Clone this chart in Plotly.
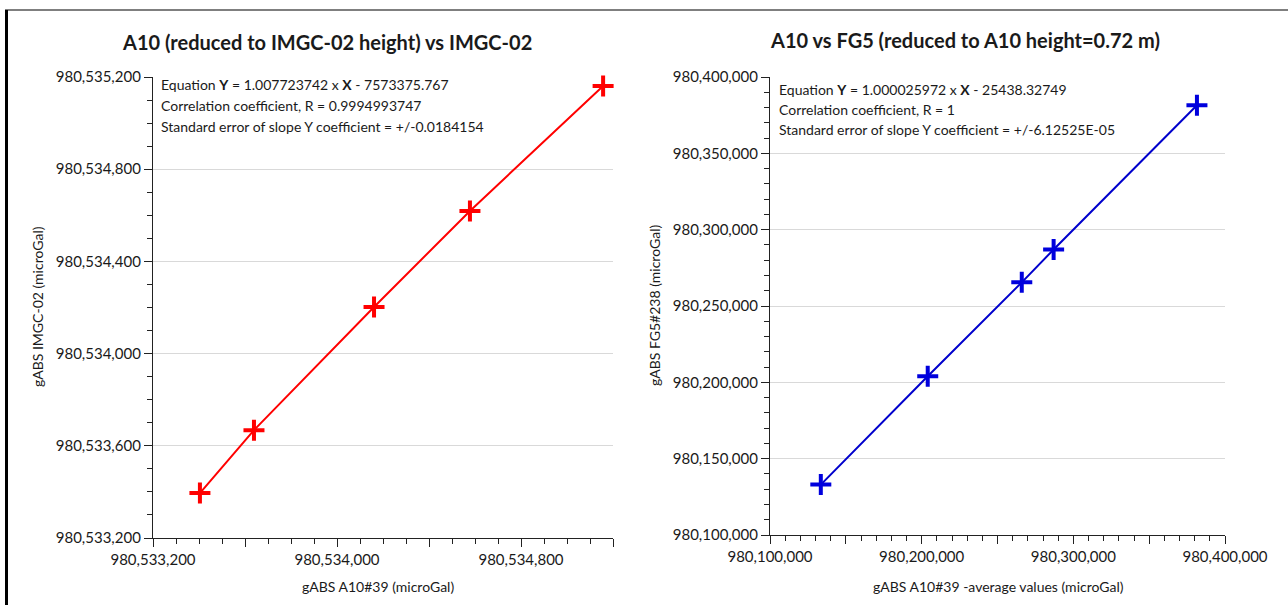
import plotly.graph_objects as go

# ---- data ----
left_x = [980533404, 980533639, 980534161, 980534578, 980535157]
left_y = [980533395, 980533668, 980534202, 980534619, 980535161]
right_x = [980133500, 980204000, 980266000, 980287000, 980381500]
right_y = [980133000, 980204000, 980265500, 980287000, 980381500]

left_title = "A10 (reduced to IMGC-02 height) vs IMGC-02"
right_title = "A10 vs FG5 (reduced to A10 height=0.72 m)"
left_xlabel = "gABS A10#39 (microGal)"
left_ylabel = "gABS IMGC-02 (microGal)"
right_xlabel = "gABS A10#39 -average values (microGal)"
right_ylabel = "gABS FG5#238 (microGal)"
left_eq = ["Equation <b>Y</b> = 1.007723742 x <b>X</b> - 7573375.767",
           "Correlation coefficient, R = 0.9994993747",
           "Standard error of slope Y coefficient = +/-0.0184154"]
right_eq = ["Equation <b>Y</b> = 1.000025972 x <b>X</b> - 25438.32749",
            "Correlation coefficient, R = 1",
            "Standard error of slope Y coefficient = +/-6.12525E-05"]

left_xticks = [980533200 + 400 * i for i in range(6)]
left_yticks = [980533200 + 400 * i for i in range(6)]
right_xticks = [980100000 + 50000 * i for i in range(7)]
right_yticks = [980100000 + 50000 * i for i in range(7)]

W, H = 1288, 605
FONT = "Lato"
TXT = "#1a1a1a"

def fx(p):
    return p / W

def fy(p):
    return 1 - p / H

def fmt(v):
    return f"{v:,}"

fig = go.Figure()
fig.add_trace(go.Scatter(
    x=left_x, y=left_y, mode="lines+markers",
    line=dict(color="#ff0000", width=2),
    marker=dict(symbol="cross-thin", size=15, line=dict(color="#ff0000", width=4)),
    xaxis="x", yaxis="y", showlegend=False, cliponaxis=False))
fig.add_trace(go.Scatter(
    x=right_x, y=right_y, mode="lines+markers",
    line=dict(color="#0000cc", width=2),
    marker=dict(symbol="cross-thin", size=15, line=dict(color="#0000dd", width=4)),
    xaxis="x2", yaxis="y2", showlegend=False, cliponaxis=False))

axis_common = dict(
    showline=True, linecolor="#222", linewidth=1.3,
    ticks="outside", tickcolor="#222", ticklen=8, tickwidth=1.3,
    tickfont=dict(family=FONT, size=15, color=TXT),
    zeroline=False, automargin=False,
)

fig.update_layout(
    width=W, height=H, autosize=False,
    margin=dict(l=0, r=0, t=0, b=0, pad=0, autoexpand=False),
    paper_bgcolor="white", plot_bgcolor="white",
    font=dict(family=FONT, color=TXT),
    xaxis=dict(
        **axis_common,
        domain=[fx(153), fx(613)], anchor="y",
        range=[980533200, 980535200],
        tickvals=left_xticks,
        ticktext=[fmt(v) if i % 2 == 0 else "" for i, v in enumerate(left_xticks)],
        showgrid=False,
        minor=dict(dtick=100, tick0=980533200, ticks="outside", ticklen=5, tickcolor="#222", showgrid=False),
    ),
    yaxis=dict(
        **axis_common,
        domain=[fy(538), fy(77)], anchor="x",
        range=[980533200, 980535200],
        tickvals=left_yticks,
        ticktext=[fmt(v) for v in left_yticks],
        showgrid=True, gridcolor="#d9d9d9", gridwidth=1,
        minor=dict(dtick=100, tick0=980533200, ticks="outside", ticklen=5, tickcolor="#222", showgrid=False),
    ),
    xaxis2=dict(
        **axis_common,
        domain=[fx(770), fx(1225)], anchor="y2",
        range=[980100000, 980400000],
        tickvals=right_xticks,
        ticktext=[fmt(v) if i % 2 == 0 else "" for i, v in enumerate(right_xticks)],
        showgrid=False,
        minor=dict(dtick=10000, tick0=980100000, ticks="outside", ticklen=5, tickcolor="#222", showgrid=False),
    ),
    yaxis2=dict(
        **axis_common,
        domain=[fy(535), fy(77)], anchor="x2",
        range=[980100000, 980400000],
        tickvals=right_yticks,
        ticktext=[fmt(v) for v in right_yticks],
        showgrid=True, gridcolor="#d9d9d9", gridwidth=1,
        minor=dict(dtick=10000, tick0=980100000, ticks="outside", ticklen=5, tickcolor="#222", showgrid=False),
    ),
)

ann = []
# titles
ann.append(dict(text=f"<b>{left_title}</b>", x=fx(327), y=fy(42), xref="paper", yref="paper",
                xanchor="center", yanchor="middle", showarrow=False,
                font=dict(family=FONT, size=20, color=TXT)))
ann.append(dict(text=f"<b>{right_title}</b>", x=fx(965), y=fy(40), xref="paper", yref="paper",
                xanchor="center", yanchor="middle", showarrow=False,
                font=dict(family=FONT, size=20, color=TXT)))
# axis titles
ann.append(dict(text=left_xlabel, x=fx(378), y=fy(586), xref="paper", yref="paper",
                xanchor="center", yanchor="middle", showarrow=False,
                font=dict(family=FONT, size=14, color=TXT)))
ann.append(dict(text=right_xlabel, x=fx(998), y=fy(586), xref="paper", yref="paper",
                xanchor="center", yanchor="middle", showarrow=False,
                font=dict(family=FONT, size=14, color=TXT)))
ann.append(dict(text=left_ylabel, x=fx(37), y=fy(307), xref="paper", yref="paper",
                xanchor="center", yanchor="middle", showarrow=False, textangle=-90,
                font=dict(family=FONT, size=14, color=TXT)))
ann.append(dict(text=right_ylabel, x=fx(654), y=fy(306), xref="paper", yref="paper",
                xanchor="center", yanchor="middle", showarrow=False, textangle=-90,
                font=dict(family=FONT, size=14, color=TXT)))
# equation texts
for i, t in enumerate(left_eq):
    ann.append(dict(text=t, x=fx(159), y=fy(85 + 20.5 * i), xref="paper", yref="paper",
                    xanchor="left", yanchor="middle", showarrow=False,
                    font=dict(family=FONT, size=14, color=TXT)))
for i, t in enumerate(right_eq):
    ann.append(dict(text=t, x=fx(777), y=fy(89 + 20.5 * i), xref="paper", yref="paper",
                    xanchor="left", yanchor="middle", showarrow=False,
                    font=dict(family=FONT, size=14, color=TXT)))
fig.update_layout(annotations=ann)

# frame lines
fig.update_layout(shapes=[
    dict(type="line", xref="paper", yref="paper", x0=fx(5), x1=1, y0=fy(10), y1=fy(10),
         line=dict(color="#555", width=1.5)),
    dict(type="line", xref="paper", yref="paper", x0=fx(6.5), x1=fx(6.5), y0=fy(10), y1=0,
         line=dict(color="#000", width=3)),
])

fig.write_html("out.html")
